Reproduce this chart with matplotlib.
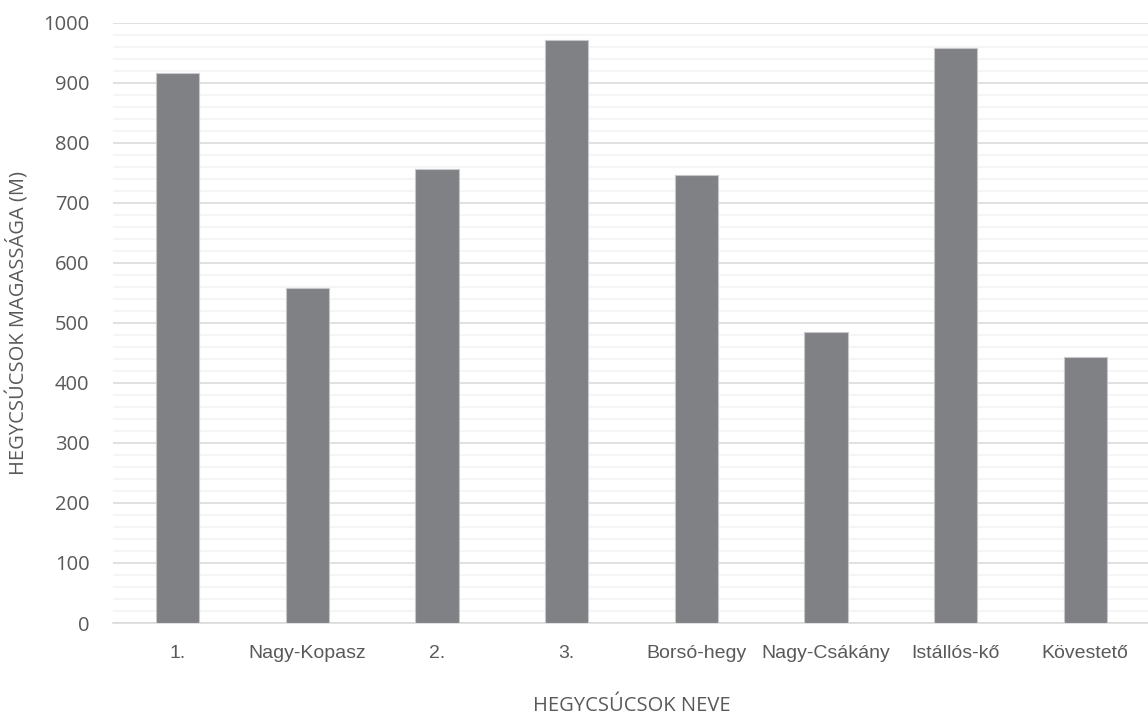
import numpy as np
import matplotlib.pyplot as plt
from matplotlib.ticker import MultipleLocator

# Peak names and their heights (m)
peaks = ['1.', 'Nagy-Kopasz', '2.', '3.', 'Borsó-hegy', 'Nagy-Csákány', 'Istállós-kő', 'Kövestető']
heights = [916, 558, 756, 971, 747, 485, 958, 443]

text_color = '#595959'
bar_color = '#808185'

fig = plt.figure(figsize=(11.48, 7.18), dpi=100)
ax = fig.add_axes([0.0984, 0.1323, 0.9034, 0.8361])

x = np.arange(len(peaks))
ax.bar(x, heights, width=0.335, color=bar_color, edgecolor='#c8c8ca', linewidth=0.8, zorder=3)

ax.set_xlim(-0.5, len(peaks) - 0.5)
ax.set_ylim(0, 1000)
ax.yaxis.set_major_locator(MultipleLocator(100))
ax.yaxis.set_minor_locator(MultipleLocator(20))
ax.grid(axis='y', which='minor', color='#f2f2f2', linewidth=1.1, zorder=0)
ax.grid(axis='y', which='major', color='#d9d9d9', linewidth=1.1, zorder=1)

for side in ['top', 'right', 'left']:
    ax.spines[side].set_visible(False)
ax.spines['bottom'].set_color('#d9d9d9')
ax.spines['bottom'].set_linewidth(1.1)

ax.set_xticks(x)
ax.set_xticklabels(peaks, family=['Liberation Sans', 'DejaVu Sans'], fontsize=14, color=text_color)
for lbl in ax.get_yticklabels():
    lbl.set_family('Open Sans')
ax.tick_params(axis='y', which='both', length=0, pad=17, labelsize=14.5, labelcolor=text_color)
ax.tick_params(axis='x', which='both', length=0, pad=15.5)

ax.set_xlabel('HEGYCSÚCSOK NEVE', family='Open Sans', fontsize=14.5, color=text_color, va='center')
ax.xaxis.set_label_coords(0.5, -0.138)
ax.set_ylabel('HEGYCSÚCSOK MAGASSÁGA (M)', family='Open Sans', fontsize=14.5, color=text_color, va='center')
ax.yaxis.set_label_coords(-0.0916, 0.5)

fig.savefig('out.png', dpi=100)
